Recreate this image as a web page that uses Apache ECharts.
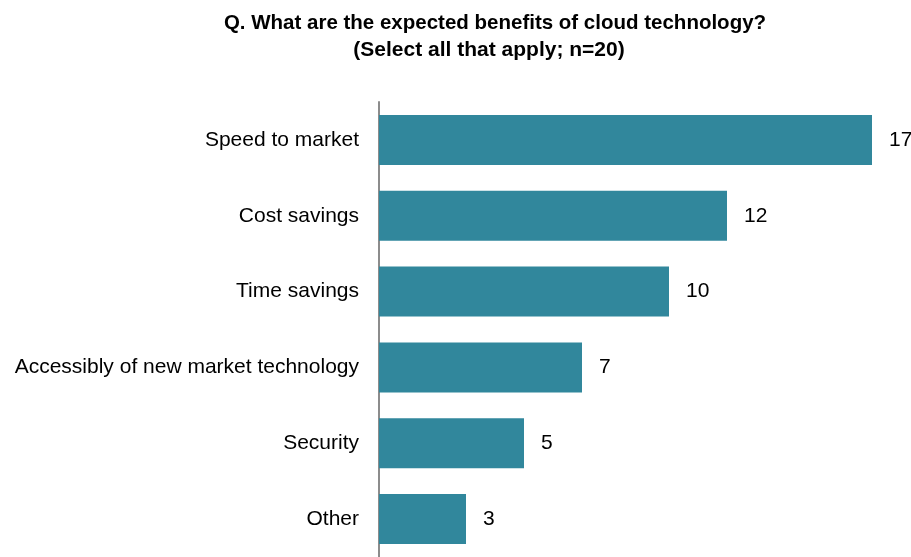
<!DOCTYPE html>
<html>
<head>
<meta charset="utf-8">
<script src="https://cdn.jsdelivr.net/npm/echarts@6/dist/echarts.min.js"></script>
<style>
  html, body { margin: 0; padding: 0; background: #fff; }
  #chart { width: 911px; height: 557px; }
</style>
</head>
<body>
<div id="chart"></div>
<script>
// Survey answers, top to bottom
const categories = [
  'Speed to market',
  'Cost savings',
  'Time savings',
  'Accessibly of new market technology',
  'Security',
  'Other'
];
const responses = [17, 12, 10, 7, 5, 3];

const question = 'Q. What are the expected benefits of cloud technology?';
const note = '(Select all that apply; n=20)';

const titleFont = {
  fontFamily: 'Liberation Sans, Arial, sans-serif',
  fontWeight: 'bold',
  fontSize: 20.5,
  color: '#000'
};

const chart = echarts.init(document.getElementById('chart'), null, { renderer: 'canvas' });

chart.setOption({
  animation: false,
  backgroundColor: '#ffffff',
  title: [
    { text: question, left: 490, textAlign: 'center', top: 8, textStyle: titleFont },
    { text: note, left: 484, textAlign: 'center', top: 35, textStyle: Object.assign({}, titleFont, { fontSize: 21 }) }
  ],
  grid: {
    left: 379,
    top: 102,
    width: 493,
    height: 456,
    containLabel: false
  },
  xAxis: {
    type: 'value',
    min: 0,
    max: 17,
    show: false
  },
  yAxis: {
    type: 'category',
    data: categories,
    inverse: true,
    axisLine: { show: true, lineStyle: { color: '#8c8c8c', width: 2 } },
    axisTick: { show: false },
    splitLine: { show: false },
    axisLabel: {
      margin: 20,
      fontFamily: 'Liberation Sans, Arial, sans-serif',
      fontSize: 21,
      color: '#000'
    }
  },
  series: [{
    type: 'bar',
    data: responses,
    barWidth: 50,
    itemStyle: { color: '#31879c' },
    label: {
      show: true,
      position: 'right',
      distance: 17,
      fontFamily: 'Liberation Sans, Arial, sans-serif',
      fontSize: 21,
      color: '#000'
    }
  }]
});
</script>
</body>
</html>
